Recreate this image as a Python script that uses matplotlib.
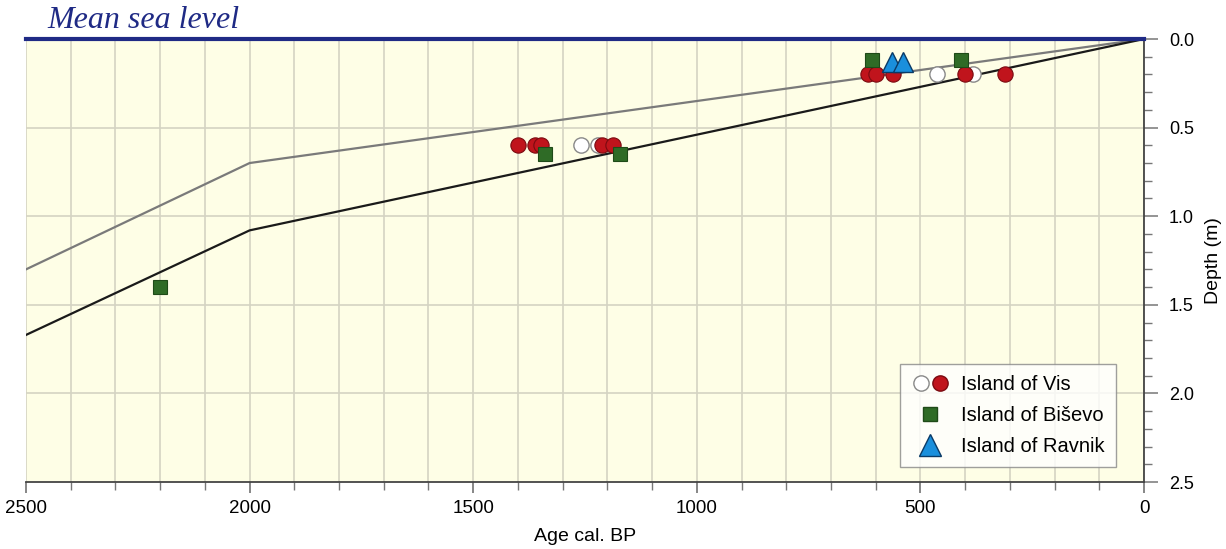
import matplotlib
matplotlib.use("Agg")
import matplotlib.pyplot as plt
from matplotlib.ticker import MultipleLocator
from matplotlib.legend_handler import HandlerTuple
from matplotlib.lines import Line2D
from matplotlib import font_manager

# ---- data ----
upper_age = [2500, 2000, 0]
upper_depth = [1.30, 0.70, 0.0]
lower_age = [2500, 2000, 0]
lower_depth = [1.67, 1.08, 0.0]

vis_white_age = [1259, 1221, 463, 382]
vis_white_depth = [0.60, 0.60, 0.20, 0.20]
vis_red_age = [1400, 1362, 1348, 1212, 1188, 617, 599, 561, 400, 311]
vis_red_depth = [0.60, 0.60, 0.60, 0.60, 0.60, 0.20, 0.20, 0.20, 0.20, 0.20]
bisevo_age = [2200, 1340, 1172, 608, 409]
bisevo_depth = [1.40, 0.65, 0.65, 0.12, 0.12]
ravnik_age = [564, 539]
ravnik_depth = [0.13, 0.13]

xticks = [2500, 2000, 1500, 1000, 500, 0]
yticks = [0.0, 0.5, 1.0, 1.5, 2.0, 2.5]
legend_labels = ['Island of Vis', 'Island of Biševo', 'Island of Ravnik']

names = {f.name for f in font_manager.fontManager.ttflist}
narrow = 'Liberation Sans Narrow' if 'Liberation Sans Narrow' in names else 'Liberation Sans'
plt.rcParams['font.family'] = ['Liberation Sans', 'DejaVu Sans']

fig = plt.figure(figsize=(12.26, 5.49), dpi=100)
ax = fig.add_axes([26/1226, 1-482/549, (1144-26)/1226, (482-39)/549])
ax.set_facecolor('#fefee6')

ax.set_xlim(2500, 0)
ax.set_ylim(2.5, 0)

ax.xaxis.set_minor_locator(MultipleLocator(100))
ax.yaxis.set_minor_locator(MultipleLocator(0.1))
ax.set_xticks(xticks)
ax.set_xticklabels([str(t) for t in xticks], fontsize=13.5, family=narrow)
ax.set_yticks(yticks)
ax.set_yticklabels([f"{t:.1f}" for t in yticks], fontsize=13)

ax.yaxis.tick_right()
ax.yaxis.set_label_position('right')

# grid
for a in range(0, 2501, 100):
    ax.axvline(a, color='#d4d3c2', lw=1.2, zorder=0.5)
for d in [0.5, 1.0, 1.5, 2.0]:
    ax.axhline(d, color='#d4d3c2', lw=1.2, zorder=0.5)

ax.spines['left'].set_visible(False)
ax.spines['top'].set_visible(False)
for s in ['bottom', 'right']:
    ax.spines[s].set_color('#444444')
    ax.spines[s].set_linewidth(1.3)

ax.tick_params(axis='x', which='major', length=8, width=1.1, color='#666666', pad=5)
ax.tick_params(axis='x', which='minor', length=6, width=1.0, color='#777777')
ax.tick_params(axis='y', which='major', length=10, width=1.1, color='#777777', pad=8)
ax.tick_params(axis='y', which='minor', length=6, width=1.0, color='#777777')

# mean sea level
ax.axhline(0, color='#1f2a85', lw=3, zorder=3, clip_on=False)
fig.text(47/1226, 1-21/549, 'Mean sea level', family='Liberation Serif', style='italic',
         fontsize=23, color='#1f2a85', va='center', ha='left')

# envelope lines
ax.plot(upper_age, upper_depth, color='#7a7a7a', lw=1.6, zorder=2)
ax.plot(lower_age, lower_depth, color='#1a1a1a', lw=1.6, zorder=2)

# points
ms = 11
ax.plot(vis_white_age, vis_white_depth, 'o', ms=ms, mfc='white', mec='#888888', mew=1.0, ls='none', zorder=4)
ax.plot(vis_red_age, vis_red_depth, 'o', ms=ms, mfc='#c0141c', mec='#7a0a10', mew=0.8, ls='none', zorder=5)
ax.plot(bisevo_age, bisevo_depth, 's', ms=10.5, mfc='#2f6b26', mec='#1f4a18', mew=0.8, ls='none', zorder=6)
ax.plot(ravnik_age, ravnik_depth, '^', ms=14.5, mfc='#1a8fdc', mec='#0a3a66', mew=1.0, ls='none', zorder=6)

ax.set_xlabel('Age cal. BP', fontsize=14, family=narrow, labelpad=8)
ax.set_ylabel('Depth (m)', fontsize=14, family=narrow, labelpad=8)

h_white = Line2D([], [], marker='o', ms=ms, mfc='white', mec='#888888', ls='none')
h_red = Line2D([], [], marker='o', ms=ms, mfc='#c0141c', mec='#7a0a10', ls='none')
h_sq = Line2D([], [], marker='s', ms=10.5, mfc='#2f6b26', mec='#1f4a18', ls='none')
h_tri = Line2D([], [], marker='^', ms=16, mfc='#1a8fdc', mec='#0a3a66', ls='none')
leg = ax.legend([(h_white, h_red), h_sq, h_tri], legend_labels,
                handler_map={tuple: HandlerTuple(ndivide=None, pad=0.0)},
                loc='lower right', bbox_to_anchor=(1116/1226, 1-467/549), bbox_transform=fig.transFigure,
                borderaxespad=0.0,
                fontsize=14.5, frameon=True, fancybox=False, edgecolor='#888888',
                borderpad=0.55, labelspacing=0.6, handlelength=1.9, handletextpad=0.6)
leg.get_frame().set_linewidth(1.0)
leg.set_zorder(10)

fig.savefig('out.png', dpi=100)
